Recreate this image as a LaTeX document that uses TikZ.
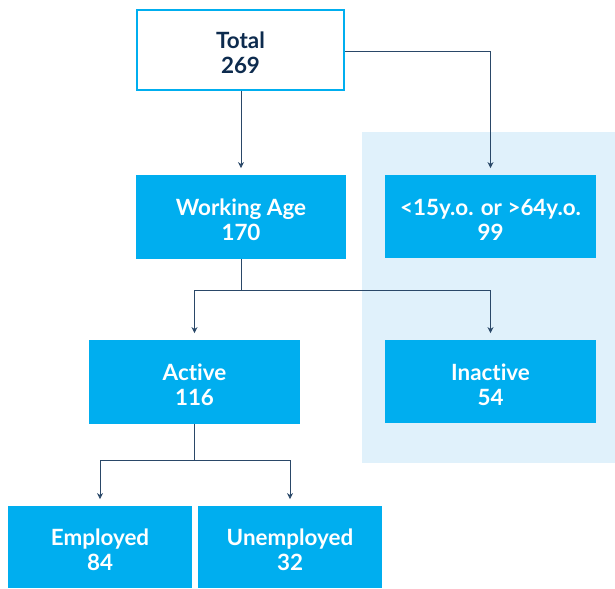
\documentclass[tikz,border=0pt]{standalone}
\usepackage{fontspec}
\setmainfont{Lato}[Ligatures=NoCommon]
\usetikzlibrary{arrows.meta}

\definecolor{boxcyan}{HTML}{00AEEF}
\definecolor{paleblue}{HTML}{E0F1FB}
\definecolor{inknavy}{HTML}{0D2B4E}
\definecolor{linenavy}{HTML}{2A4868}

\tikzset{
  catbox/.style={fill=boxcyan, text=white, align=center, font=\fontsize{16.8}{18.8}\selectfont\bfseries,
    inner sep=0pt, text depth=0pt, yshift=0pt},
  topbox/.style={catbox, fill=white, draw=boxcyan, line width=2.2pt, text=inknavy},
  link/.style={draw=linenavy, line width=0.6pt},
  arrowlink/.style={link, -{Stealth[length=4.5pt,width=4.5pt]}, shorten >=5pt}
}
\newcommand{\boxtext}[2]{\rule{0pt}{17pt}#1\\#2}

\begin{document}
\begin{tikzpicture}[x=0.75pt,y=-0.75pt]
  \useasboundingbox (0,0) rectangle (615,589);

  \fill[paleblue] (362,132) rectangle (615,463);

  \node [topbox, minimum width=207pt*0.75, minimum height=80pt*0.75] (total) at (240.5,50) {\boxtext{Total}{269}};

  \node [catbox, minimum width=210pt*0.75, minimum height=84pt*0.75] (working) at (241,217) {\boxtext{Working Age}{170}};
  \node [catbox, minimum width=211pt*0.75, minimum height=83pt*0.75] (outside) at (490.5,216.5) {\boxtext{<15y.o. or >64y.o.}{99}};

  \node [catbox, minimum width=211pt*0.75, minimum height=84pt*0.75] (active) at (194.5,382) {\boxtext{Active}{116}};
  \node [catbox, minimum width=211pt*0.75, minimum height=83pt*0.75] (inactive) at (490.5,381.5) {\boxtext{Inactive}{54}};

  \node [catbox, minimum width=184pt*0.75, minimum height=82pt*0.75] (employed) at (100,547) {\boxtext{Employed}{84}};
  \node [catbox, minimum width=184pt*0.75, minimum height=82pt*0.75] (unemployed) at (290,547) {\boxtext{Unemployed}{32}};

  \coordinate (worksplit) at (241,290);
  \coordinate (activesplit) at (194.5,460);

  \draw [arrowlink] (total.south -| working.north) -- (working.north);
  \draw [arrowlink] (total.east |- 0,51) -| (outside.north);

  \draw [link] (working.south) -- (worksplit);
  \draw [arrowlink] (worksplit) -| (active.north);
  \draw [arrowlink] (worksplit) -| (inactive.north);

  \draw [link] (active.south) -- (activesplit);
  \draw [arrowlink] (activesplit) -| (employed.north);
  \draw [arrowlink] (activesplit) -| (unemployed.north);
\end{tikzpicture}
\end{document}
